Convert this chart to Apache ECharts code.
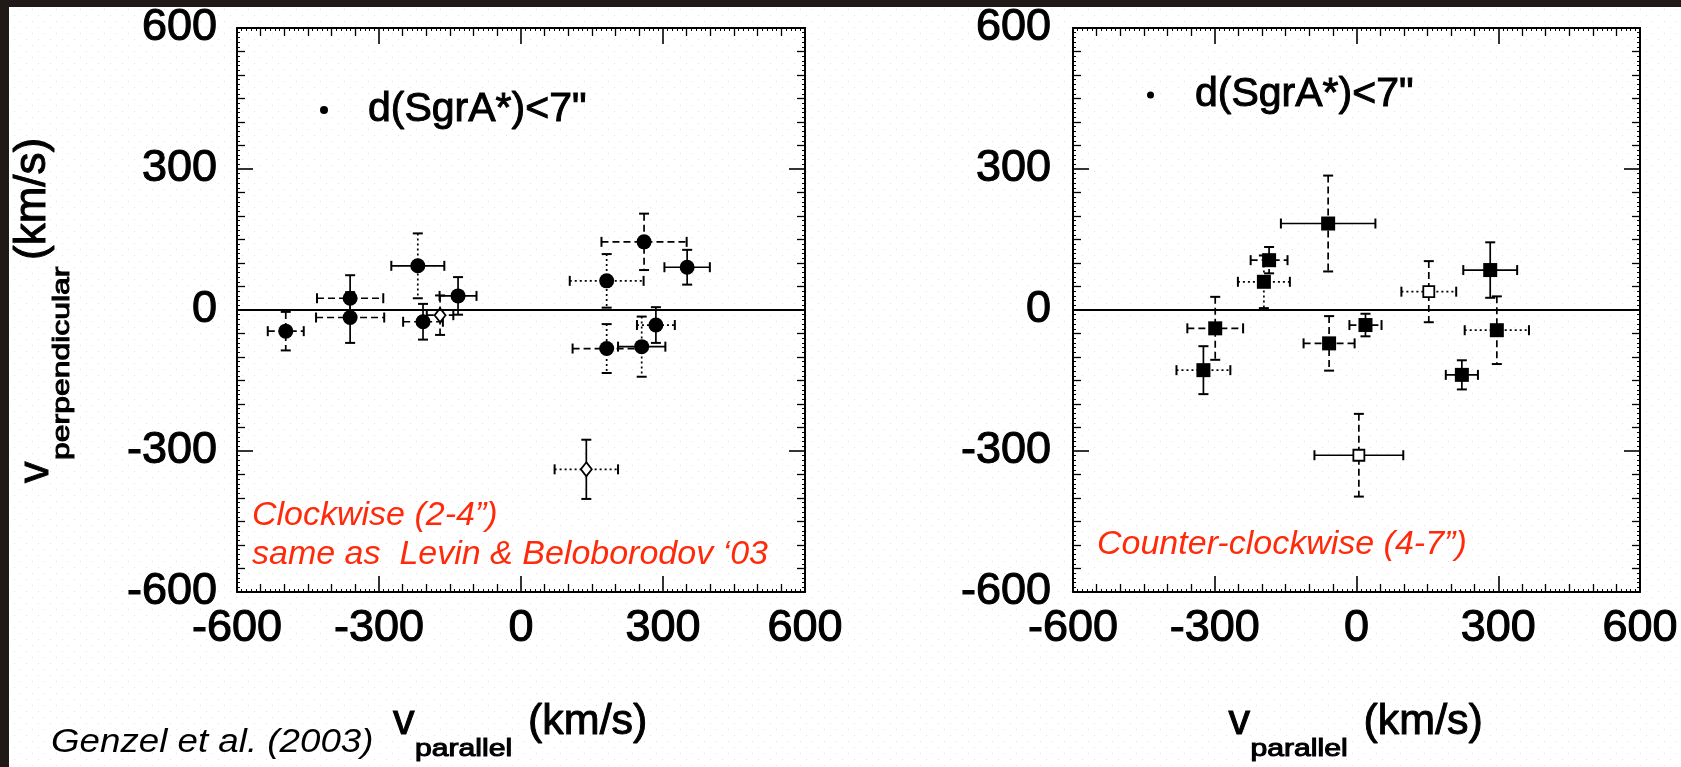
<!DOCTYPE html>
<html>
<head>
<meta charset="utf-8">
<script src="https://cdn.jsdelivr.net/npm/echarts@6/dist/echarts.min.js"></script>
<style>
html,body{margin:0;padding:0;background:#fff;}
#chart{width:1681px;height:767px;}
</style>
</head>
<body>
<div id="chart"></div>
<script>
// ---------------- data ----------------
const axisTicks = [-600, -300, 0, 300, 600];
const legendLabel = 'd(SgrA*)<7"';
const titleV = 'v';
const xTitleSub = 'parallel';
const yTitleSub = 'perpendicular';
const unitLabel = '(km/s)';
const leftNote = ['Clockwise (2-4\u201d)', 'same as  Levin & Beloborodov \u201803'];
const rightNote = 'Counter-clockwise (4-7\u201d)';
const creditNote = 'Genzel et al. (2003)';

// [v_parallel, v_perpendicular, err_parallel, err_perpendicular]  (km/s)
const cwFilled = [
  [-497, -45, 38, 41],
  [-361, 25, 70, 49],
  [-361, -16, 72, 54],
  [-218, 94, 56, 69],
  [-207, -25, 42, 38],
  [-133, 30, 39, 40],
  [260, 145, 90, 60],
  [351, 91, 48, 37],
  [181, 62, 78, 57],
  [285, -32, 40, 38],
  [181, -82, 72, 52],
  [255, -78, 50, 64]
];
const cwOpen = [
  [-171, -11, 28, 42],
  [138, -339, 67, 63]
];
const ccwFilled = [
  [-60, 184, 100, 102],
  [-185, 106, 39, 28],
  [-196, 60, 55, 56],
  [-299, -39, 59, 67],
  [-324, -128, 57, 51],
  [-58, -71, 54, 58],
  [19, -32, 34, 24],
  [283, 85, 57, 59],
  [297, -43, 68, 72],
  [223, -138, 34, 31]
];
const ccwOpen = [
  [153, 39, 58, 65],
  [5, -309, 94, 88]
];

// line type of each error bar: [horizontal, vertical]
const cwFilledBars = [['dashed','dashed'],['dashed','solid'],['dashed','solid'],['solid','dotted'],['dashed','solid'],['solid','solid'],['dashed','dashed'],['solid','solid'],['dotted','dotted'],['dotted','solid'],['dashed','dotted'],['solid','dotted']];
const cwOpenBars = [['dashed','dashed'],['dotted','solid']];
const ccwFilledBars = [['solid','dashed'],['dashed','dashed'],['dotted','dotted'],['dashed','dashed'],['dotted','solid'],['dashed','dashed'],['dashed','solid'],['solid','solid'],['dotted','dashed'],['solid','solid']];
const ccwOpenBars = [['dotted','dashed'],['solid','dashed']];

// ---------------- chart ----------------
const FONT = 'Liberation Sans';
const chart = echarts.init(document.getElementById('chart'), null, {renderer: 'canvas'});

const pc = document.createElement('canvas');
pc.width = 12; pc.height = 12;
const pg = pc.getContext('2d');
pg.fillStyle = '#e3e3e3';
pg.fillRect(2, 3, 1, 1);
pg.fillRect(8, 9, 1, 1);

const grids = [
  {left: 237, top: 28, width: 568, height: 564},
  {left: 1073, top: 28, width: 567, height: 564}
];

function mainAxis(gi, pos, labels, margin) {
  return {
    type: 'value', gridIndex: gi, position: pos,
    min: axisTicks[0], max: axisTicks[axisTicks.length - 1], interval: axisTicks[1] - axisTicks[0],
    axisLine: {show: true, onZero: false, lineStyle: {color: '#000', width: 2}},
    axisTick: {show: true, inside: true, length: 16, lineStyle: {color: '#000', width: 1.6}},
    minorTick: {show: true, splitNumber: 6, length: 8, lineStyle: {color: '#000', width: 1.3}},
    splitLine: {show: false},
    axisLabel: {show: labels, fontSize: 45, fontFamily: FONT, color: '#000', margin: margin || 10,
      textBorderColor: '#000', textBorderWidth: 1.1, showMinLabel: true, showMaxLabel: true}
  };
}
function fineAxis(gi, pos) {
  return {
    type: 'value', gridIndex: gi, position: pos,
    min: axisTicks[0], max: axisTicks[axisTicks.length - 1], interval: 50,
    axisLine: {show: false, onZero: false},
    axisTick: {show: false, inside: true},
    minorTick: {show: true, splitNumber: 5, length: 3, lineStyle: {color: '#000', width: 1}},
    splitLine: {show: false},
    axisLabel: {show: false}
  };
}

const xAxes = [
  mainAxis(0, 'bottom', true, 14), mainAxis(0, 'top', false),
  mainAxis(1, 'bottom', true, 14), mainAxis(1, 'top', false),
  fineAxis(2, 'bottom'), fineAxis(2, 'top'), fineAxis(3, 'bottom'), fineAxis(3, 'top')
];
const yAxes = [
  mainAxis(0, 'left', true, 20), mainAxis(0, 'right', false),
  mainAxis(1, 'left', true, 22), mainAxis(1, 'right', false),
  fineAxis(2, 'left'), fineAxis(2, 'right'), fineAxis(3, 'left'), fineAxis(3, 'right')
];

function dashOf(t) {
  return t === 'dashed' ? [7, 4] : (t === 'dotted' ? [2, 3] : null);
}
function errorBars(data, types, ai) {
  return {
    type: 'custom', xAxisIndex: ai, yAxisIndex: ai, z: 3, silent: true,
    data: data,
    encode: {x: 0, y: 1},
    renderItem: function (params, api) {
      const x = api.value(0), y = api.value(1), ex = api.value(2), ey = api.value(3);
      const l = api.coord([x - ex, y]), r = api.coord([x + ex, y]);
      const t = api.coord([x, y + ey]), b = api.coord([x, y - ey]);
      const ty = types[params.dataIndex];
      const cap = 5;
      function seg(x1, y1, x2, y2, kind, w) {
        const st = {stroke: '#000', lineWidth: w || 1.7};
        const d = dashOf(kind);
        if (d) st.lineDash = d;
        return {type: 'line', shape: {x1: x1, y1: y1, x2: x2, y2: y2}, style: st};
      }
      return {
        type: 'group', children: [
          seg(l[0], l[1], r[0], r[1], ty[0]),
          seg(l[0], l[1] - cap, l[0], l[1] + cap, 'solid', 2),
          seg(r[0], r[1] - cap, r[0], r[1] + cap, 'solid', 2),
          seg(t[0], t[1], b[0], b[1], ty[1]),
          seg(t[0] - cap, t[1], t[0] + cap, t[1], 'solid', 2),
          seg(b[0] - cap, b[1], b[0] + cap, b[1], 'solid', 2)
        ]
      };
    }
  };
}
const zeroLine = {
  silent: true, symbol: ['none', 'none'], label: {show: false},
  lineStyle: {color: '#000', width: 2, type: 'solid'},
  data: [{yAxis: 0}]
};

const series = [
  errorBars(cwFilled, cwFilledBars, 0),
  errorBars(cwOpen, cwOpenBars, 0),
  errorBars(ccwFilled, ccwFilledBars, 2),
  errorBars(ccwOpen, ccwOpenBars, 2),
  {
    name: legendLabel, type: 'scatter', xAxisIndex: 0, yAxisIndex: 0, z: 4,
    symbol: 'circle', symbolSize: 15, itemStyle: {color: '#000', opacity: 1},
    data: cwFilled.map(p => [p[0], p[1]]), markLine: zeroLine
  },
  {
    name: 'cw-open', type: 'scatter', xAxisIndex: 0, yAxisIndex: 0, z: 4,
    symbol: 'diamond', symbolSize: [11, 14],
    itemStyle: {color: '#fff', borderColor: '#000', borderWidth: 1.8, opacity: 1},
    data: cwOpen.map(p => [p[0], p[1]])
  },
  {
    name: legendLabel, type: 'scatter', xAxisIndex: 2, yAxisIndex: 2, z: 4,
    symbol: 'rect', symbolSize: 14, itemStyle: {color: '#000', opacity: 1},
    data: ccwFilled.map(p => [p[0], p[1]]), markLine: zeroLine
  },
  {
    name: 'ccw-open', type: 'scatter', xAxisIndex: 2, yAxisIndex: 2, z: 4,
    symbol: 'rect', symbolSize: 11,
    itemStyle: {color: '#fff', borderColor: '#000', borderWidth: 1.8, opacity: 1},
    data: ccwOpen.map(p => [p[0], p[1]])
  },
  {type: 'scatter', xAxisIndex: 4, yAxisIndex: 4, data: [], silent: true},
  {type: 'scatter', xAxisIndex: 6, yAxisIndex: 6, data: [], silent: true}
];

function txt(x, y, text, size, extra, styleExtra) {
  return Object.assign({type: 'text', silent: true, z: 50, x: x, y: y,
    style: Object.assign({text: text, fontSize: size, fontFamily: FONT, fill: '#000', verticalAlign: 'middle', align: 'left'}, styleExtra || {})},
    extra || {});
}
const heavy = {stroke: '#000', lineWidth: 1};
function xTitle(c) {
  return [
    txt(c - 128, 722, titleV, 43, null, heavy),
    txt(c - 106, 750, xTitleSub, 23, {scaleX: 1.31}, heavy),
    txt(c + 7, 722, unitLabel, 43, null, heavy)
  ];
}
const R = Math.PI / 2;
const yTitle = [
  txt(36, 483, titleV, 43, {rotation: R}, heavy),
  txt(62, 460, yTitleSub, 24, {rotation: R, scaleX: 1.33}, heavy),
  txt(33, 260, unitLabel, 44, {rotation: R}, heavy)
];
const red = {fontStyle: 'italic', fill: '#ff2a0a'};

const option = {
  backgroundColor: '#ffffff',
  animation: false,
  grid: [
    Object.assign({outerBoundsMode: 'none', containLabel: false}, grids[0]),
    Object.assign({outerBoundsMode: 'none', containLabel: false}, grids[1]),
    Object.assign({outerBoundsMode: 'none', containLabel: false}, grids[0]),
    Object.assign({outerBoundsMode: 'none', containLabel: false}, grids[1])
  ],
  xAxis: xAxes,
  yAxis: yAxes,
  legend: [
    {left: 315, top: 84, data: [legendLabel], icon: 'circle', itemWidth: 8, itemHeight: 8,
      selectedMode: false, textStyle: {fontSize: 41, fontFamily: FONT, color: '#000', padding: [0, 0, 0, 35],
        textBorderColor: '#000', textBorderWidth: 1}},
    {left: 1142, top: 69, data: [legendLabel], icon: 'circle', itemWidth: 7, itemHeight: 7,
      selectedMode: false, textStyle: {fontSize: 41, fontFamily: FONT, color: '#000', padding: [0, 0, 0, 36],
        textBorderColor: '#000', textBorderWidth: 1}}
  ],
  graphic: [
    {type: 'rect', silent: true, z: -100, shape: {x: 0, y: 0, width: 1681, height: 767},
      style: {fill: {image: pc, repeat: 'repeat'}}},
    {type: 'rect', silent: true, z: 100, shape: {x: 0, y: 0, width: 1681, height: 7}, style: {fill: '#1f1a18'}},
    {type: 'rect', silent: true, z: 100, shape: {x: 0, y: 0, width: 9, height: 767}, style: {fill: '#1f1a18'}},
    txt(252, 516, leftNote[0], 34, null, red),
    txt(252, 555, leftNote[1], 34, null, red),
    txt(1097, 545, rightNote, 34, null, red),
    txt(51, 743, creditNote, 34, {scaleX: 1.08}, {fontStyle: 'italic'})
  ].concat(xTitle(521), xTitle(1356.5), yTitle),
  series: series
};
chart.setOption(option);
</script>
</body>
</html>
